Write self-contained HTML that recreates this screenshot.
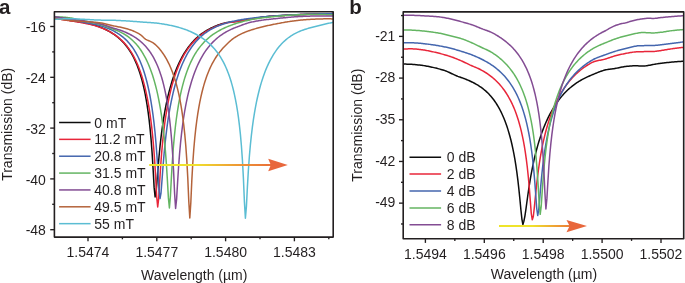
<!DOCTYPE html>
<html><head><meta charset="utf-8"><style>
html,body{margin:0;padding:0;background:#fff;width:685px;height:283px;overflow:hidden}
svg{display:block;will-change:transform}
.t{font-family:"Liberation Sans",sans-serif;font-size:14px;fill:#231f20}
.L{font-family:"Liberation Sans",sans-serif;font-size:20.5px;font-weight:bold;fill:#231f20}
</style></head><body>
<svg width="685" height="283" viewBox="0 0 685 283">
<defs>
<clipPath id="clipa"><rect x="54.4" y="11.8" width="278.8" height="225.29999999999998"/></clipPath>
<clipPath id="clipb"><rect x="403.2" y="11.9" width="280.50000000000006" height="226.79999999999998"/></clipPath>
<linearGradient id="ga" gradientUnits="userSpaceOnUse" x1="149.5" y1="0" x2="288" y2="0"><stop offset="0" stop-color="#eee52a"/><stop offset="0.33" stop-color="#f0e12c"/><stop offset="0.62" stop-color="#ee9c34"/><stop offset="0.85" stop-color="#ea7438"/><stop offset="1" stop-color="#e8673c"/></linearGradient>
<linearGradient id="gb" gradientUnits="userSpaceOnUse" x1="499" y1="0" x2="587" y2="0"><stop offset="0" stop-color="#eee52a"/><stop offset="0.38" stop-color="#f0e12c"/><stop offset="0.66" stop-color="#ee9c34"/><stop offset="0.85" stop-color="#ea7438"/><stop offset="1" stop-color="#e8673c"/></linearGradient>
</defs>
<rect width="685" height="283" fill="#fff"/>
<text x="-1.10" y="14.00" text-anchor="start" class="L">a</text>
<text x="349.20" y="13.80" text-anchor="start" class="L">b</text>
<g clip-path="url(#clipa)" fill="none" stroke-width="1.5" stroke-linejoin="round" stroke-linecap="round">
<polyline points="53.10,17.69 54.10,17.82 55.10,17.99 56.10,18.15 57.10,18.32 58.10,18.48 59.10,18.64 60.10,18.80 61.10,18.96 62.10,19.12 63.10,19.28 64.10,19.44 65.10,19.60 66.10,19.76 67.10,19.92 68.10,20.08 69.10,20.24 70.10,20.40 71.10,20.56 72.10,20.72 73.10,20.88 74.10,21.04 75.10,21.19 76.10,21.35 77.10,21.51 78.10,21.67 79.10,21.83 80.10,22.00 81.10,22.17 82.10,22.35 83.10,22.54 84.10,22.74 85.10,22.94 86.10,23.15 87.10,23.36 88.10,23.58 89.10,23.80 90.10,24.03 91.10,24.27 92.10,24.52 93.10,24.79 94.10,25.07 95.10,25.36 96.10,25.67 97.10,26.00 98.10,26.34 99.10,26.71 100.10,27.10 101.10,27.50 102.10,27.92 103.10,28.36 104.10,28.81 105.10,29.28 106.10,29.77 107.10,30.27 108.10,30.80 109.10,31.35 110.10,31.93 111.10,32.52 112.10,33.14 113.10,33.79 114.10,34.47 115.10,35.18 116.10,35.92 117.10,36.69 118.10,37.50 119.10,38.35 120.10,39.24 121.10,40.18 122.10,41.17 123.10,42.20 124.10,43.29 125.10,44.45 126.10,45.67 127.10,46.95 128.10,48.32 129.10,49.76 130.10,51.29 131.10,52.92 132.10,54.66 133.10,56.50 134.10,58.48 135.10,60.59 136.10,62.84 137.10,65.27 138.10,67.88 139.10,70.69 140.10,73.74 141.10,77.04 142.10,80.64 143.10,84.58 144.10,88.91 145.10,93.70 146.10,99.03 147.10,105.02 148.10,111.83 149.10,119.65 150.10,128.80 151.10,139.68 152.10,152.90 153.10,169.06 154.10,187.15 155.10,196.96 156.10,192.04 157.10,180.18 158.10,167.39 159.10,155.73 160.10,145.53 161.10,136.61 162.10,128.76 163.10,121.79 164.10,115.53 165.10,109.88 166.10,104.72 167.10,99.99 168.10,95.63 169.10,91.59 170.10,87.84 171.10,84.34 172.10,81.06 173.10,77.98 174.10,75.09 175.10,72.36 176.10,69.79 177.10,67.35 178.10,65.05 179.10,62.87 180.10,60.80 181.10,58.83 182.10,56.97 183.10,55.19 184.10,53.50 185.10,51.89 186.10,50.36 187.10,48.90 188.10,47.50 189.10,46.17 190.10,44.91 191.10,43.70 192.10,42.54 193.10,41.44 194.10,40.38 195.10,39.37 196.10,38.41 197.10,37.49 198.10,36.61 199.10,35.76 200.10,34.96 201.10,34.19 202.10,33.45 203.10,32.74 204.10,32.06 205.10,31.41 206.10,30.79 207.10,30.19 208.10,29.62 209.10,29.07 210.10,28.55 211.10,28.04 212.10,27.56 213.10,27.10 214.10,26.65 215.10,26.23 216.10,25.82 217.10,25.43 218.10,25.06 219.10,24.70 220.10,24.36 221.10,24.03 222.10,23.72 223.10,23.43 224.10,23.17 225.10,22.93 226.10,22.73 227.10,22.54 228.10,22.38 229.10,22.23 230.10,22.10 231.10,21.98 232.10,21.87 233.10,21.76 234.10,21.66 235.10,21.56 236.10,21.45 237.10,21.34 238.10,21.22 239.10,21.09 240.10,20.94 241.10,20.79 242.10,20.63 243.10,20.46 244.10,20.29 245.10,20.12 246.10,19.95 247.10,19.77 248.10,19.60 249.10,19.42 250.10,19.24 251.10,19.06 252.10,18.88 253.10,18.70 254.10,18.52 255.10,18.34 256.10,18.17 257.10,18.00 258.10,17.83 259.10,17.67 260.10,17.51 261.10,17.35 262.10,17.20 263.10,17.06 264.10,16.93 265.10,16.80 266.10,16.67 267.10,16.56 268.10,16.46 269.10,16.36 270.10,16.28 271.10,16.20 272.10,16.13 273.10,16.07 274.10,16.00 275.10,15.94 276.10,15.87 277.10,15.81 278.10,15.75 279.10,15.69 280.10,15.63 281.10,15.57 282.10,15.51 283.10,15.45 284.10,15.40 285.10,15.34 286.10,15.29 287.10,15.24 288.10,15.18 289.10,15.13 290.10,15.08 291.10,15.03 292.10,14.98 293.10,14.93 294.10,14.88 295.10,14.83 296.10,14.79 297.10,14.74 298.10,14.70 299.10,14.65 300.10,14.61 301.10,14.56 302.10,14.52 303.10,14.48 304.10,14.44 305.10,14.41 306.10,14.37 307.10,14.34 308.10,14.31 309.10,14.28 310.10,14.24 311.10,14.21 312.10,14.18 313.10,14.15 314.10,14.12 315.10,14.09 316.10,14.06 317.10,14.03 318.10,14.00 319.10,13.97 320.10,13.94 321.10,13.91 322.10,13.88 323.10,13.85 324.10,13.83 325.10,13.80 326.10,13.77 327.10,13.75 328.10,13.72 329.10,13.69 330.10,13.67 331.10,13.65 332.10,13.62 333.10,13.60 334.10,13.55 335.10,13.49" stroke="#0c0c0c"/>
<polyline points="52.70,18.03 53.70,18.16 54.70,18.32 55.70,18.49 56.70,18.66 57.70,18.82 58.70,18.99 59.70,19.15 60.70,19.32 61.70,19.48 62.70,19.64 63.70,19.80 64.70,19.96 65.70,20.12 66.70,20.27 67.70,20.43 68.70,20.59 69.70,20.74 70.70,20.90 71.70,21.06 72.70,21.21 73.70,21.37 74.70,21.52 75.70,21.68 76.70,21.84 77.70,22.00 78.70,22.16 79.70,22.33 80.70,22.50 81.70,22.68 82.70,22.86 83.70,23.05 84.70,23.24 85.70,23.45 86.70,23.66 87.70,23.87 88.70,24.09 89.70,24.32 90.70,24.56 91.70,24.80 92.70,25.06 93.70,25.33 94.70,25.61 95.70,25.90 96.70,26.20 97.70,26.52 98.70,26.85 99.70,27.20 100.70,27.57 101.70,27.95 102.70,28.35 103.70,28.76 104.70,29.19 105.70,29.64 106.70,30.11 107.70,30.60 108.70,31.11 109.70,31.65 110.70,32.20 111.70,32.79 112.70,33.40 113.70,34.03 114.70,34.70 115.70,35.40 116.70,36.13 117.70,36.90 118.70,37.70 119.70,38.55 120.70,39.44 121.70,40.37 122.70,41.35 123.70,42.38 124.70,43.47 125.70,44.61 126.70,45.82 127.70,47.10 128.70,48.44 129.70,49.87 130.70,51.38 131.70,52.97 132.70,54.66 133.70,56.46 134.70,58.36 135.70,60.39 136.70,62.55 137.70,64.85 138.70,67.31 139.70,69.94 140.70,72.76 141.70,75.79 142.70,79.05 143.70,82.58 144.70,86.41 145.70,90.58 146.70,95.15 147.70,100.17 148.70,105.75 149.70,111.98 150.70,119.04 151.70,127.12 152.70,136.53 153.70,147.71 154.70,161.28 155.70,177.91 156.70,196.71 157.70,206.92 158.70,198.35 159.70,181.33 160.70,165.52 161.70,152.29 162.70,141.25 163.70,131.87 164.70,123.77 165.70,116.66 166.70,110.35 167.70,104.69 168.70,99.56 169.70,94.89 170.70,90.61 171.70,86.66 172.70,83.01 173.70,79.62 174.70,76.46 175.70,73.51 176.70,70.74 177.70,68.15 178.70,65.71 179.70,63.42 180.70,61.26 181.70,59.21 182.70,57.28 183.70,55.46 184.70,53.73 185.70,52.09 186.70,50.54 187.70,49.06 188.70,47.66 189.70,46.33 190.70,45.06 191.70,43.86 192.70,42.71 193.70,41.62 194.70,40.57 195.70,39.58 196.70,38.62 197.70,37.72 198.70,36.85 199.70,36.02 200.70,35.22 201.70,34.46 202.70,33.73 203.70,33.03 204.70,32.36 205.70,31.72 206.70,31.10 207.70,30.51 208.70,29.94 209.70,29.39 210.70,28.86 211.70,28.35 212.70,27.87 213.70,27.40 214.70,26.95 215.70,26.51 216.70,26.10 217.70,25.70 218.70,25.31 219.70,24.94 220.70,24.58 221.70,24.24 222.70,23.91 223.70,23.60 224.70,23.33 225.70,23.09 226.70,22.88 227.70,22.69 228.70,22.53 229.70,22.39 230.70,22.26 231.70,22.14 232.70,22.03 233.70,21.93 234.70,21.83 235.70,21.73 236.70,21.62 237.70,21.49 238.70,21.36 239.70,21.20 240.70,21.03 241.70,20.86 242.70,20.68 243.70,20.50 244.70,20.33 245.70,20.15 246.70,19.97 247.70,19.80 248.70,19.62 249.70,19.44 250.70,19.27 251.70,19.09 252.70,18.92 253.70,18.75 254.70,18.58 255.70,18.41 256.70,18.25 257.70,18.09 258.70,17.93 259.70,17.78 260.70,17.63 261.70,17.48 262.70,17.34 263.70,17.21 264.70,17.08 265.70,16.95 266.70,16.84 267.70,16.72 268.70,16.62 269.70,16.52 270.70,16.43 271.70,16.35 272.70,16.27 273.70,16.19 274.70,16.12 275.70,16.04 276.70,15.97 277.70,15.90 278.70,15.83 279.70,15.76 280.70,15.69 281.70,15.63 282.70,15.56 283.70,15.50 284.70,15.44 285.70,15.37 286.70,15.32 287.70,15.26 288.70,15.20 289.70,15.14 290.70,15.09 291.70,15.04 292.70,14.99 293.70,14.93 294.70,14.88 295.70,14.84 296.70,14.79 297.70,14.74 298.70,14.70 299.70,14.65 300.70,14.61 301.70,14.57 302.70,14.53 303.70,14.49 304.70,14.45 305.70,14.41 306.70,14.38 307.70,14.34 308.70,14.31 309.70,14.27 310.70,14.24 311.70,14.21 312.70,14.18 313.70,14.15 314.70,14.12 315.70,14.10 316.70,14.07 317.70,14.05 318.70,14.02 319.70,14.00 320.70,13.98 321.70,13.96 322.70,13.94 323.70,13.92 324.70,13.90 325.70,13.89 326.70,13.87 327.70,13.86 328.70,13.84 329.70,13.83 330.70,13.82 331.70,13.81 332.70,13.80 333.70,13.79 334.70,13.77" stroke="#e8263a"/>
<polyline points="53.00,16.31 54.00,16.50 55.00,16.71 56.00,16.92 57.00,17.13 58.00,17.33 59.00,17.54 60.00,17.74 61.00,17.94 62.00,18.13 63.00,18.33 64.00,18.52 65.00,18.72 66.00,18.91 67.00,19.10 68.00,19.29 69.00,19.48 70.00,19.67 71.00,19.86 72.00,20.05 73.00,20.24 74.00,20.43 75.00,20.62 76.00,20.81 77.00,21.00 78.00,21.19 79.00,21.39 80.00,21.58 81.00,21.78 82.00,21.97 83.00,22.17 84.00,22.38 85.00,22.58 86.00,22.78 87.00,22.96 88.00,23.14 89.00,23.30 90.00,23.46 91.00,23.62 92.00,23.79 93.00,23.95 94.00,24.13 95.00,24.32 96.00,24.52 97.00,24.74 98.00,24.98 99.00,25.25 100.00,25.54 101.00,25.85 102.00,26.17 103.00,26.50 104.00,26.84 105.00,27.20 106.00,27.58 107.00,27.96 108.00,28.37 109.00,28.79 110.00,29.23 111.00,29.69 112.00,30.16 113.00,30.66 114.00,31.19 115.00,31.73 116.00,32.30 117.00,32.90 118.00,33.53 119.00,34.19 120.00,34.88 121.00,35.60 122.00,36.36 123.00,37.16 124.00,38.01 125.00,38.90 126.00,39.84 127.00,40.84 128.00,41.89 129.00,43.00 130.00,44.18 131.00,45.44 132.00,46.77 133.00,48.18 134.00,49.69 135.00,51.29 136.00,53.00 137.00,54.82 138.00,56.77 139.00,58.85 140.00,61.08 141.00,63.48 142.00,66.05 143.00,68.81 144.00,71.79 145.00,75.02 146.00,78.51 147.00,82.31 148.00,86.46 149.00,91.01 150.00,96.02 151.00,101.59 152.00,107.81 153.00,114.85 154.00,122.90 155.00,132.25 156.00,143.29 157.00,156.55 158.00,172.47 159.00,189.70 160.00,198.56 161.00,193.06 162.00,180.26 163.00,166.80 164.00,154.71 165.00,144.21 166.00,135.09 167.00,127.07 168.00,119.97 169.00,113.60 170.00,107.84 171.00,102.60 172.00,97.80 173.00,93.37 174.00,89.28 175.00,85.47 176.00,81.92 177.00,78.61 178.00,75.50 179.00,72.59 180.00,69.84 181.00,67.26 182.00,64.82 183.00,62.52 184.00,60.34 185.00,58.28 186.00,56.33 187.00,54.48 188.00,52.73 189.00,51.07 190.00,49.49 191.00,47.99 192.00,46.56 193.00,45.21 194.00,43.92 195.00,42.70 196.00,41.53 197.00,40.42 198.00,39.37 199.00,38.36 200.00,37.41 201.00,36.49 202.00,35.62 203.00,34.79 204.00,34.00 205.00,33.24 206.00,32.52 207.00,31.83 208.00,31.18 209.00,30.55 210.00,29.95 211.00,29.37 212.00,28.82 213.00,28.30 214.00,27.79 215.00,27.31 216.00,26.85 217.00,26.41 218.00,25.98 219.00,25.58 220.00,25.19 221.00,24.82 222.00,24.46 223.00,24.12 224.00,23.79 225.00,23.47 226.00,23.17 227.00,22.88 228.00,22.59 229.00,22.32 230.00,22.06 231.00,21.81 232.00,21.57 233.00,21.34 234.00,21.11 235.00,20.90 236.00,20.69 237.00,20.48 238.00,20.29 239.00,20.10 240.00,19.92 241.00,19.74 242.00,19.57 243.00,19.41 244.00,19.25 245.00,19.09 246.00,18.94 247.00,18.80 248.00,18.66 249.00,18.52 250.00,18.38 251.00,18.25 252.00,18.13 253.00,18.00 254.00,17.88 255.00,17.77 256.00,17.65 257.00,17.54 258.00,17.43 259.00,17.33 260.00,17.22 261.00,17.12 262.00,17.02 263.00,16.92 264.00,16.83 265.00,16.74 266.00,16.64 267.00,16.55 268.00,16.46 269.00,16.38 270.00,16.29 271.00,16.21 272.00,16.13 273.00,16.04 274.00,15.97 275.00,15.89 276.00,15.81 277.00,15.74 278.00,15.66 279.00,15.59 280.00,15.53 281.00,15.47 282.00,15.42 283.00,15.36 284.00,15.31 285.00,15.25 286.00,15.20 287.00,15.15 288.00,15.10 289.00,15.05 290.00,15.00 291.00,14.95 292.00,14.90 293.00,14.85 294.00,14.80 295.00,14.76 296.00,14.71 297.00,14.67 298.00,14.62 299.00,14.58 300.00,14.54 301.00,14.49 302.00,14.45 303.00,14.41 304.00,14.37 305.00,14.33 306.00,14.29 307.00,14.26 308.00,14.22 309.00,14.18 310.00,14.15 311.00,14.11 312.00,14.08 313.00,14.05 314.00,14.02 315.00,13.99 316.00,13.96 317.00,13.93 318.00,13.90 319.00,13.87 320.00,13.85 321.00,13.82 322.00,13.80 323.00,13.78 324.00,13.75 325.00,13.73 326.00,13.71 327.00,13.69 328.00,13.67 329.00,13.66 330.00,13.64 331.00,13.63 332.00,13.61 333.00,13.60 334.00,13.59 335.00,13.59" stroke="#4466ae"/>
<polyline points="53.40,17.04 54.40,17.13 55.40,17.10 56.40,17.08 57.40,17.06 58.40,17.05 59.40,17.05 60.40,17.06 61.40,17.08 62.40,17.12 63.40,17.16 64.40,17.22 65.40,17.30 66.40,17.39 67.40,17.50 68.40,17.62 69.40,17.76 70.40,17.92 71.40,18.11 72.40,18.31 73.40,18.52 74.40,18.75 75.40,18.98 76.40,19.23 77.40,19.47 78.40,19.72 79.40,19.97 80.40,20.21 81.40,20.45 82.40,20.68 83.40,20.90 84.40,21.10 85.40,21.29 86.40,21.48 87.40,21.67 88.40,21.86 89.40,22.05 90.40,22.24 91.40,22.44 92.40,22.64 93.40,22.84 94.40,23.05 95.40,23.26 96.40,23.48 97.40,23.71 98.40,23.94 99.40,24.18 100.40,24.44 101.40,24.72 102.40,25.03 103.40,25.36 104.40,25.72 105.40,26.09 106.40,26.48 107.40,26.87 108.40,27.27 109.40,27.66 110.40,28.05 111.40,28.44 112.40,28.82 113.40,29.19 114.40,29.56 115.40,29.93 116.40,30.33 117.40,30.73 118.40,31.16 119.40,31.61 120.40,32.08 121.40,32.58 122.40,33.10 123.40,33.65 124.40,34.24 125.40,34.85 126.40,35.50 127.40,36.18 128.40,36.90 129.40,37.67 130.40,38.48 131.40,39.33 132.40,40.23 133.40,41.18 134.40,42.18 135.40,43.25 136.40,44.37 137.40,45.55 138.40,46.81 139.40,48.13 140.40,49.54 141.40,51.02 142.40,52.60 143.40,54.26 144.40,56.03 145.40,57.90 146.40,59.89 147.40,62.01 148.40,64.26 149.40,66.65 150.40,69.21 151.40,71.94 152.40,74.86 153.40,77.99 154.40,81.36 155.40,84.99 156.40,88.92 157.40,93.20 158.40,97.86 159.40,102.99 160.40,108.66 161.40,114.98 162.40,122.10 163.40,130.24 164.40,139.67 165.40,150.80 166.40,164.18 167.40,180.30 168.40,197.90 169.40,207.98 170.40,196.30 171.40,177.19 172.40,160.49 173.40,146.94 174.40,135.82 175.40,126.49 176.40,118.49 177.40,111.52 178.40,105.37 179.40,99.87 180.40,94.93 181.40,90.44 182.40,86.35 183.40,82.59 184.40,79.13 185.40,75.93 186.40,72.96 187.40,70.20 188.40,67.62 189.40,65.20 190.40,62.94 191.40,60.82 192.40,58.82 193.40,56.94 194.40,55.17 195.40,53.49 196.40,51.91 197.40,50.41 198.40,48.99 199.40,47.64 200.40,46.36 201.40,45.14 202.40,43.99 203.40,42.88 204.40,41.83 205.40,40.83 206.40,39.87 207.40,38.96 208.40,38.08 209.40,37.25 210.40,36.45 211.40,35.68 212.40,34.94 213.40,34.23 214.40,33.55 215.40,32.90 216.40,32.27 217.40,31.66 218.40,31.08 219.40,30.52 220.40,29.98 221.40,29.45 222.40,28.95 223.40,28.46 224.40,27.99 225.40,27.53 226.40,27.09 227.40,26.66 228.40,26.25 229.40,25.85 230.40,25.46 231.40,25.09 232.40,24.72 233.40,24.37 234.40,24.03 235.40,23.70 236.40,23.38 237.40,23.07 238.40,22.77 239.40,22.47 240.40,22.19 241.40,21.91 242.40,21.65 243.40,21.39 244.40,21.13 245.40,20.89 246.40,20.65 247.40,20.42 248.40,20.20 249.40,19.98 250.40,19.77 251.40,19.57 252.40,19.38 253.40,19.19 254.40,19.02 255.40,18.85 256.40,18.69 257.40,18.54 258.40,18.39 259.40,18.25 260.40,18.11 261.40,17.98 262.40,17.86 263.40,17.73 264.40,17.62 265.40,17.50 266.40,17.39 267.40,17.28 268.40,17.18 269.40,17.07 270.40,16.97 271.40,16.87 272.40,16.76 273.40,16.66 274.40,16.56 275.40,16.46 276.40,16.36 277.40,16.26 278.40,16.16 279.40,16.07 280.40,15.98 281.40,15.89 282.40,15.81 283.40,15.72 284.40,15.64 285.40,15.57 286.40,15.49 287.40,15.42 288.40,15.36 289.40,15.29 290.40,15.23 291.40,15.17 292.40,15.11 293.40,15.05 294.40,15.00 295.40,14.95 296.40,14.90 297.40,14.86 298.40,14.82 299.40,14.78 300.40,14.74 301.40,14.71 302.40,14.67 303.40,14.64 304.40,14.62 305.40,14.59 306.40,14.57 307.40,14.55 308.40,14.53 309.40,14.52 310.40,14.51 311.40,14.50 312.40,14.49 313.40,14.49 314.40,14.48 315.40,14.48 316.40,14.49 317.40,14.49 318.40,14.50 319.40,14.51 320.40,14.52 321.40,14.54 322.40,14.56 323.40,14.58 324.40,14.60 325.40,14.62 326.40,14.65 327.40,14.68 328.40,14.72 329.40,14.75 330.40,14.79 331.40,14.83 332.40,14.87 333.40,14.92 334.40,14.97" stroke="#64b562"/>
<polyline points="52.60,16.55 53.60,16.72 54.60,16.86 55.60,16.98 56.60,17.11 57.60,17.24 58.60,17.36 59.60,17.49 60.60,17.62 61.60,17.75 62.60,17.87 63.60,18.00 64.60,18.13 65.60,18.26 66.60,18.39 67.60,18.53 68.60,18.66 69.60,18.79 70.60,18.93 71.60,19.06 72.60,19.20 73.60,19.34 74.60,19.48 75.60,19.62 76.60,19.76 77.60,19.91 78.60,20.05 79.60,20.20 80.60,20.35 81.60,20.50 82.60,20.65 83.60,20.81 84.60,20.97 85.60,21.13 86.60,21.29 87.60,21.46 88.60,21.62 89.60,21.79 90.60,21.96 91.60,22.13 92.60,22.31 93.60,22.49 94.60,22.68 95.60,22.87 96.60,23.07 97.60,23.27 98.60,23.48 99.60,23.69 100.60,23.92 101.60,24.17 102.60,24.46 103.60,24.77 104.60,25.10 105.60,25.44 106.60,25.80 107.60,26.16 108.60,26.52 109.60,26.88 110.60,27.23 111.60,27.58 112.60,27.91 113.60,28.22 114.60,28.52 115.60,28.80 116.60,29.09 117.60,29.37 118.60,29.67 119.60,29.98 120.60,30.32 121.60,30.69 122.60,31.07 123.60,31.47 124.60,31.88 125.60,32.31 126.60,32.76 127.60,33.22 128.60,33.70 129.60,34.20 130.60,34.72 131.60,35.27 132.60,35.84 133.60,36.43 134.60,37.05 135.60,37.70 136.60,38.38 137.60,39.10 138.60,39.85 139.60,40.63 140.60,41.46 141.60,42.33 142.60,43.25 143.60,44.22 144.60,45.24 145.60,46.32 146.60,47.46 147.60,48.67 148.60,49.95 149.60,51.31 150.60,52.76 151.60,54.30 152.60,55.94 153.60,57.69 154.60,59.56 155.60,61.56 156.60,63.71 157.60,66.03 158.60,68.52 159.60,71.22 160.60,74.15 161.60,77.33 162.60,80.81 163.60,84.63 164.60,88.84 165.60,93.52 166.60,98.75 167.60,104.66 168.60,111.41 169.60,119.24 170.60,128.47 171.60,139.62 172.60,153.50 173.60,171.32 174.60,193.52 175.60,208.54 176.60,199.26 177.60,182.28 178.60,166.53 179.60,153.37 180.60,142.40 181.60,133.09 182.60,125.05 183.60,118.00 184.60,111.75 185.60,106.14 186.60,101.07 187.60,96.44 188.60,92.20 189.60,88.30 190.60,84.68 191.60,81.32 192.60,78.19 193.60,75.27 194.60,72.53 195.60,69.96 196.60,67.54 197.60,65.26 198.60,63.11 199.60,61.07 200.60,59.15 201.60,57.33 202.60,55.60 203.60,53.97 204.60,52.41 205.60,50.93 206.60,49.52 207.60,48.19 208.60,46.91 209.60,45.70 210.60,44.54 211.60,43.44 212.60,42.38 213.60,41.38 214.60,40.42 215.60,39.50 216.60,38.62 217.60,37.78 218.60,36.98 219.60,36.22 220.60,35.48 221.60,34.78 222.60,34.11 223.60,33.46 224.60,32.85 225.60,32.26 226.60,31.69 227.60,31.15 228.60,30.62 229.60,30.12 230.60,29.64 231.60,29.18 232.60,28.73 233.60,28.31 234.60,27.89 235.60,27.50 236.60,27.11 237.60,26.73 238.60,26.35 239.60,25.96 240.60,25.58 241.60,25.20 242.60,24.82 243.60,24.45 244.60,24.09 245.60,23.75 246.60,23.42 247.60,23.10 248.60,22.81 249.60,22.55 250.60,22.31 251.60,22.08 252.60,21.86 253.60,21.65 254.60,21.45 255.60,21.26 256.60,21.08 257.60,20.91 258.60,20.74 259.60,20.58 260.60,20.42 261.60,20.27 262.60,20.12 263.60,19.98 264.60,19.85 265.60,19.72 266.60,19.60 267.60,19.49 268.60,19.38 269.60,19.27 270.60,19.16 271.60,19.06 272.60,18.95 273.60,18.85 274.60,18.75 275.60,18.64 276.60,18.53 277.60,18.43 278.60,18.32 279.60,18.22 280.60,18.12 281.60,18.02 282.60,17.92 283.60,17.82 284.60,17.72 285.60,17.63 286.60,17.53 287.60,17.44 288.60,17.35 289.60,17.27 290.60,17.18 291.60,17.10 292.60,17.02 293.60,16.95 294.60,16.87 295.60,16.80 296.60,16.73 297.60,16.67 298.60,16.61 299.60,16.55 300.60,16.50 301.60,16.45 302.60,16.40 303.60,16.36 304.60,16.32 305.60,16.28 306.60,16.24 307.60,16.21 308.60,16.18 309.60,16.15 310.60,16.12 311.60,16.10 312.60,16.07 313.60,16.06 314.60,16.04 315.60,16.02 316.60,16.01 317.60,16.00 318.60,15.99 319.60,15.98 320.60,15.98 321.60,15.97 322.60,15.97 323.60,15.98 324.60,15.98 325.60,15.99 326.60,16.00 327.60,16.01 328.60,16.02 329.60,16.03 330.60,16.05 331.60,16.07 332.60,16.09 333.60,16.10 334.60,16.11" stroke="#834c93"/>
<polyline points="52.80,18.07 53.80,18.18 54.80,18.34 55.80,18.52 56.80,18.69 57.80,18.86 58.80,19.02 59.80,19.17 60.80,19.32 61.80,19.47 62.80,19.61 63.80,19.74 64.80,19.88 65.80,20.00 66.80,20.13 67.80,20.25 68.80,20.36 69.80,20.48 70.80,20.59 71.80,20.68 72.80,20.77 73.80,20.86 74.80,20.93 75.80,21.01 76.80,21.07 77.80,21.14 78.80,21.20 79.80,21.26 80.80,21.32 81.80,21.38 82.80,21.45 83.80,21.51 84.80,21.59 85.80,21.66 86.80,21.72 87.80,21.79 88.80,21.84 89.80,21.90 90.80,21.96 91.80,22.02 92.80,22.08 93.80,22.15 94.80,22.23 95.80,22.31 96.80,22.41 97.80,22.51 98.80,22.64 99.80,22.77 100.80,22.93 101.80,23.11 102.80,23.30 103.80,23.52 104.80,23.75 105.80,23.98 106.80,24.23 107.80,24.48 108.80,24.73 109.80,24.99 110.80,25.23 111.80,25.47 112.80,25.70 113.80,25.92 114.80,26.12 115.80,26.32 116.80,26.51 117.80,26.70 118.80,26.90 119.80,27.10 120.80,27.31 121.80,27.54 122.80,27.76 123.80,28.00 124.80,28.24 125.80,28.49 126.80,28.76 127.80,29.05 128.80,29.36 129.80,29.69 130.80,30.04 131.80,30.42 132.80,30.82 133.80,31.24 134.80,31.69 135.80,32.16 136.80,32.65 137.80,33.17 138.80,33.71 139.80,34.28 140.80,34.95 141.80,35.82 142.80,36.79 143.80,37.77 144.80,38.64 145.80,39.30 146.80,39.82 147.80,40.28 148.80,40.71 149.80,41.18 150.80,41.66 151.80,42.12 152.80,42.64 153.80,43.31 154.80,44.14 155.80,45.04 156.80,46.00 157.80,47.02 158.80,48.11 159.80,49.28 160.80,50.52 161.80,51.83 162.80,53.23 163.80,54.70 164.80,56.26 165.80,57.92 166.80,59.68 167.80,61.55 168.80,63.55 169.80,65.68 170.80,67.97 171.80,70.41 172.80,73.04 173.80,75.88 174.80,78.94 175.80,82.26 176.80,85.87 177.80,89.82 178.80,94.17 179.80,98.99 180.80,104.35 181.80,110.40 182.80,117.29 183.80,125.25 184.80,134.64 185.80,145.98 186.80,160.11 187.80,178.37 188.80,201.57 189.80,217.94 190.80,202.95 191.80,180.81 192.80,162.95 193.80,148.99 194.80,137.75 195.80,128.41 196.80,120.47 197.80,113.59 198.80,107.55 199.80,102.17 200.80,97.35 201.80,92.98 202.80,89.01 203.80,85.38 204.80,82.03 205.80,78.95 206.80,76.09 207.80,73.44 208.80,70.97 209.80,68.66 210.80,66.50 211.80,64.47 212.80,62.57 213.80,60.78 214.80,59.09 215.80,57.50 216.80,55.99 217.80,54.56 218.80,53.21 219.80,51.91 220.80,50.66 221.80,49.47 222.80,48.32 223.80,47.22 224.80,46.17 225.80,45.16 226.80,44.18 227.80,43.22 228.80,42.29 229.80,41.38 230.80,40.51 231.80,39.68 232.80,38.89 233.80,38.17 234.80,37.50 235.80,36.87 236.80,36.27 237.80,35.69 238.80,35.14 239.80,34.62 240.80,34.12 241.80,33.64 242.80,33.19 243.80,32.75 244.80,32.32 245.80,31.92 246.80,31.53 247.80,31.15 248.80,30.78 249.80,30.43 250.80,30.09 251.80,29.77 252.80,29.46 253.80,29.17 254.80,28.88 255.80,28.60 256.80,28.34 257.80,28.07 258.80,27.82 259.80,27.56 260.80,27.31 261.80,27.05 262.80,26.79 263.80,26.55 264.80,26.30 265.80,26.06 266.80,25.83 267.80,25.60 268.80,25.37 269.80,25.16 270.80,24.94 271.80,24.73 272.80,24.53 273.80,24.33 274.80,24.13 275.80,23.94 276.80,23.75 277.80,23.56 278.80,23.37 279.80,23.18 280.80,23.00 281.80,22.81 282.80,22.63 283.80,22.45 284.80,22.28 285.80,22.11 286.80,21.94 287.80,21.78 288.80,21.63 289.80,21.48 290.80,21.34 291.80,21.19 292.80,21.05 293.80,20.91 294.80,20.78 295.80,20.65 296.80,20.52 297.80,20.40 298.80,20.29 299.80,20.18 300.80,20.07 301.80,19.97 302.80,19.88 303.80,19.80 304.80,19.72 305.80,19.64 306.80,19.57 307.80,19.50 308.80,19.44 309.80,19.38 310.80,19.32 311.80,19.27 312.80,19.22 313.80,19.17 314.80,19.13 315.80,19.09 316.80,19.05 317.80,19.01 318.80,18.97 319.80,18.94 320.80,18.92 321.80,18.89 322.80,18.88 323.80,18.86 324.80,18.85 325.80,18.85 326.80,18.84 327.80,18.85 328.80,18.85 329.80,18.86 330.80,18.87 331.80,18.88 332.80,18.90 333.80,18.87 334.80,18.84" stroke="#b4633a"/>
<polyline points="53.40,19.42 54.40,19.36 55.40,19.28 56.40,19.20 57.40,19.14 58.40,19.07 59.40,19.02 60.40,18.96 61.40,18.92 62.40,18.88 63.40,18.84 64.40,18.81 65.40,18.78 66.40,18.76 67.40,18.74 68.40,18.72 69.40,18.71 70.40,18.70 71.40,18.70 72.40,18.71 73.40,18.74 74.40,18.78 75.40,18.82 76.40,18.88 77.40,18.94 78.40,19.00 79.40,19.07 80.40,19.13 81.40,19.20 82.40,19.26 83.40,19.32 84.40,19.37 85.40,19.42 86.40,19.47 87.40,19.52 88.40,19.57 89.40,19.62 90.40,19.67 91.40,19.73 92.40,19.78 93.40,19.83 94.40,19.88 95.40,19.93 96.40,19.98 97.40,20.02 98.40,20.05 99.40,20.08 100.40,20.11 101.40,20.13 102.40,20.14 103.40,20.14 104.40,20.15 105.40,20.15 106.40,20.15 107.40,20.16 108.40,20.17 109.40,20.19 110.40,20.21 111.40,20.24 112.40,20.27 113.40,20.30 114.40,20.34 115.40,20.37 116.40,20.41 117.40,20.46 118.40,20.50 119.40,20.55 120.40,20.60 121.40,20.65 122.40,20.70 123.40,20.75 124.40,20.81 125.40,20.87 126.40,20.93 127.40,20.99 128.40,21.05 129.40,21.12 130.40,21.18 131.40,21.25 132.40,21.32 133.40,21.39 134.40,21.47 135.40,21.54 136.40,21.61 137.40,21.69 138.40,21.77 139.40,21.85 140.40,21.93 141.40,22.00 142.40,22.07 143.40,22.14 144.40,22.20 145.40,22.26 146.40,22.32 147.40,22.38 148.40,22.44 149.40,22.50 150.40,22.56 151.40,22.63 152.40,22.71 153.40,22.79 154.40,22.88 155.40,22.98 156.40,23.09 157.40,23.21 158.40,23.34 159.40,23.48 160.40,23.62 161.40,23.77 162.40,23.92 163.40,24.08 164.40,24.25 165.40,24.42 166.40,24.60 167.40,24.79 168.40,24.98 169.40,25.18 170.40,25.39 171.40,25.60 172.40,25.82 173.40,26.05 174.40,26.29 175.40,26.54 176.40,26.79 177.40,27.05 178.40,27.32 179.40,27.60 180.40,27.89 181.40,28.20 182.40,28.51 183.40,28.84 184.40,29.18 185.40,29.54 186.40,29.91 187.40,30.30 188.40,30.71 189.40,31.12 190.40,31.56 191.40,32.01 192.40,32.48 193.40,32.96 194.40,33.46 195.40,33.98 196.40,34.52 197.40,35.08 198.40,35.66 199.40,36.25 200.40,36.88 201.40,37.52 202.40,38.19 203.40,38.89 204.40,39.61 205.40,40.36 206.40,41.15 207.40,41.96 208.40,42.81 209.40,43.70 210.40,44.64 211.40,45.61 212.40,46.63 213.40,47.70 214.40,48.82 215.40,50.01 216.40,51.25 217.40,52.56 218.40,53.94 219.40,55.41 220.40,56.95 221.40,58.59 222.40,60.33 223.40,62.18 224.40,64.15 225.40,66.26 226.40,68.50 227.40,70.91 228.40,73.50 229.40,76.29 230.40,79.31 231.40,82.58 232.40,86.14 233.40,90.04 234.40,94.33 235.40,99.09 236.40,104.39 237.40,110.37 238.40,117.20 239.40,125.10 240.40,134.42 241.40,145.71 242.40,159.82 243.40,178.13 244.40,201.63 245.40,218.22 246.40,206.62 247.40,186.88 248.40,169.79 249.40,155.96 250.40,144.61 251.40,135.06 252.40,126.85 253.40,119.67 254.40,113.31 255.40,107.61 256.40,102.46 257.40,97.76 258.40,93.46 259.40,89.49 260.40,85.81 261.40,82.40 262.40,79.22 263.40,76.25 264.40,73.46 265.40,70.85 266.40,68.39 267.40,66.07 268.40,63.89 269.40,61.82 270.40,59.87 271.40,58.03 272.40,56.28 273.40,54.62 274.40,53.05 275.40,51.56 276.40,50.14 277.40,48.80 278.40,47.52 279.40,46.31 280.40,45.15 281.40,44.06 282.40,43.02 283.40,42.02 284.40,41.08 285.40,40.19 286.40,39.34 287.40,38.53 288.40,37.76 289.40,37.03 290.40,36.33 291.40,35.67 292.40,35.05 293.40,34.45 294.40,33.89 295.40,33.35 296.40,32.85 297.40,32.36 298.40,31.90 299.40,31.47 300.40,31.05 301.40,30.66 302.40,30.28 303.40,29.92 304.40,29.58 305.40,29.25 306.40,28.93 307.40,28.63 308.40,28.34 309.40,28.06 310.40,27.78 311.40,27.50 312.40,27.23 313.40,26.97 314.40,26.70 315.40,26.44 316.40,26.18 317.40,25.92 318.40,25.66 319.40,25.41 320.40,25.16 321.40,24.92 322.40,24.68 323.40,24.44 324.40,24.20 325.40,23.97 326.40,23.75 327.40,23.53 328.40,23.32 329.40,23.11 330.40,22.90 331.40,22.71 332.40,22.52 333.40,22.36 334.40,22.26" stroke="#5bbdd3"/>
</g>
<g clip-path="url(#clipb)" fill="none" stroke-width="1.5" stroke-linejoin="round" stroke-linecap="round">
<polyline points="401.90,63.94 402.90,64.08 403.90,64.10 404.90,64.11 405.90,64.12 406.90,64.14 407.90,64.17 408.90,64.21 409.90,64.25 410.90,64.30 411.90,64.36 412.90,64.43 413.90,64.51 414.90,64.60 415.90,64.69 416.90,64.79 417.90,64.89 418.90,64.99 419.90,65.10 420.90,65.22 421.90,65.35 422.90,65.48 423.90,65.63 424.90,65.80 425.90,65.97 426.90,66.15 427.90,66.34 428.90,66.54 429.90,66.74 430.90,66.95 431.90,67.17 432.90,67.39 433.90,67.62 434.90,67.86 435.90,68.10 436.90,68.35 437.90,68.61 438.90,68.87 439.90,69.14 440.90,69.41 441.90,69.69 442.90,69.98 443.90,70.29 444.90,70.63 445.90,71.01 446.90,71.42 447.90,71.85 448.90,72.30 449.90,72.76 450.90,73.23 451.90,73.71 452.90,74.18 453.90,74.65 454.90,75.10 455.90,75.55 456.90,75.97 457.90,76.37 458.90,76.74 459.90,77.08 460.90,77.42 461.90,77.78 462.90,78.14 463.90,78.52 464.90,78.90 465.90,79.30 466.90,79.71 467.90,80.13 468.90,80.56 469.90,81.01 470.90,81.47 471.90,81.95 472.90,82.45 473.90,82.96 474.90,83.50 475.90,84.05 476.90,84.63 477.90,85.23 478.90,85.86 479.90,86.52 480.90,87.20 481.90,87.92 482.90,88.68 483.90,89.47 484.90,90.30 485.90,91.17 486.90,92.09 487.90,93.06 488.90,94.08 489.90,95.15 490.90,96.29 491.90,97.48 492.90,98.73 493.90,100.06 494.90,101.46 495.90,102.94 496.90,104.49 497.90,106.14 498.90,107.89 499.90,109.73 500.90,111.69 501.90,113.76 502.90,115.96 503.90,118.31 504.90,120.80 505.90,123.47 506.90,126.32 507.90,129.38 508.90,132.67 509.90,136.22 510.90,140.06 511.90,144.24 512.90,148.82 513.90,153.84 514.90,159.40 515.90,165.60 516.90,172.56 517.90,180.41 518.90,189.30 519.90,199.24 520.90,209.76 521.90,219.01 522.90,224.63 523.90,221.14 524.90,216.11 525.90,209.34 526.90,202.01 527.90,194.77 528.90,187.94 529.90,181.58 530.90,175.71 531.90,170.29 532.90,165.27 533.90,160.62 534.90,156.29 535.90,152.25 536.90,148.47 537.90,144.91 538.90,141.57 539.90,138.40 540.90,135.41 541.90,132.57 542.90,129.88 543.90,127.32 544.90,124.87 545.90,122.54 546.90,120.32 547.90,118.19 548.90,116.15 549.90,114.20 550.90,112.33 551.90,110.54 552.90,108.83 553.90,107.18 554.90,105.59 555.90,104.07 556.90,102.61 557.90,101.21 558.90,99.86 559.90,98.56 560.90,97.32 561.90,96.12 562.90,94.97 563.90,93.86 564.90,92.79 565.90,91.77 566.90,90.78 567.90,89.83 568.90,88.92 569.90,88.04 570.90,87.20 571.90,86.39 572.90,85.60 573.90,84.85 574.90,84.12 575.90,83.42 576.90,82.74 577.90,82.09 578.90,81.47 579.90,80.86 580.90,80.27 581.90,79.71 582.90,79.16 583.90,78.63 584.90,78.12 585.90,77.62 586.90,77.14 587.90,76.67 588.90,76.22 589.90,75.77 590.90,75.34 591.90,74.92 592.90,74.50 593.90,74.08 594.90,73.66 595.90,73.24 596.90,72.83 597.90,72.42 598.90,72.02 599.90,71.64 600.90,71.28 601.90,70.93 602.90,70.61 603.90,70.32 604.90,70.05 605.90,69.82 606.90,69.63 607.90,69.46 608.90,69.32 609.90,69.19 610.90,69.06 611.90,68.94 612.90,68.81 613.90,68.67 614.90,68.50 615.90,68.32 616.90,68.12 617.90,67.91 618.90,67.70 619.90,67.49 620.90,67.29 621.90,67.09 622.90,66.91 623.90,66.74 624.90,66.59 625.90,66.46 626.90,66.34 627.90,66.24 628.90,66.15 629.90,66.06 630.90,65.98 631.90,65.91 632.90,65.84 633.90,65.78 634.90,65.75 635.90,65.75 636.90,65.78 637.90,65.82 638.90,65.88 639.90,65.93 640.90,65.97 641.90,66.00 642.90,66.00 643.90,65.98 644.90,65.91 645.90,65.80 646.90,65.66 647.90,65.50 648.90,65.34 649.90,65.16 650.90,64.97 651.90,64.78 652.90,64.58 653.90,64.38 654.90,64.20 655.90,64.02 656.90,63.87 657.90,63.73 658.90,63.60 659.90,63.47 660.90,63.33 661.90,63.20 662.90,63.07 663.90,62.94 664.90,62.82 665.90,62.70 666.90,62.59 667.90,62.48 668.90,62.38 669.90,62.29 670.90,62.21 671.90,62.12 672.90,62.03 673.90,61.95 674.90,61.86 675.90,61.78 676.90,61.70 677.90,61.62 678.90,61.54 679.90,61.46 680.90,61.39 681.90,61.33 682.90,61.26 683.90,61.21 684.90,61.11" stroke="#0c0c0c"/>
<polyline points="401.30,49.02 402.30,49.12 403.30,49.17 404.30,49.09 405.30,49.01 406.30,48.95 407.30,48.90 408.30,48.86 409.30,48.83 410.30,48.82 411.30,48.82 412.30,48.85 413.30,48.89 414.30,48.95 415.30,49.03 416.30,49.12 417.30,49.22 418.30,49.32 419.30,49.43 420.30,49.54 421.30,49.67 422.30,49.80 423.30,49.94 424.30,50.10 425.30,50.26 426.30,50.44 427.30,50.62 428.30,50.81 429.30,51.01 430.30,51.22 431.30,51.43 432.30,51.65 433.30,51.88 434.30,52.11 435.30,52.35 436.30,52.59 437.30,52.84 438.30,53.09 439.30,53.34 440.30,53.60 441.30,53.86 442.30,54.12 443.30,54.40 444.30,54.67 445.30,54.96 446.30,55.25 447.30,55.55 448.30,55.86 449.30,56.18 450.30,56.51 451.30,56.84 452.30,57.20 453.30,57.56 454.30,57.95 455.30,58.34 456.30,58.74 457.30,59.15 458.30,59.57 459.30,59.99 460.30,60.42 461.30,60.85 462.30,61.29 463.30,61.75 464.30,62.23 465.30,62.71 466.30,63.20 467.30,63.69 468.30,64.18 469.30,64.65 470.30,65.12 471.30,65.56 472.30,65.99 473.30,66.41 474.30,66.82 475.30,67.23 476.30,67.64 477.30,68.07 478.30,68.52 479.30,69.00 480.30,69.50 481.30,70.04 482.30,70.59 483.30,71.16 484.30,71.75 485.30,72.36 486.30,73.00 487.30,73.66 488.30,74.35 489.30,75.06 490.30,75.81 491.30,76.58 492.30,77.38 493.30,78.22 494.30,79.10 495.30,80.01 496.30,80.96 497.30,81.95 498.30,82.99 499.30,84.07 500.30,85.21 501.30,86.39 502.30,87.64 503.30,88.94 504.30,90.30 505.30,91.74 506.30,93.25 507.30,94.83 508.30,96.50 509.30,98.27 510.30,100.13 511.30,102.10 512.30,104.19 513.30,106.41 514.30,108.78 515.30,111.31 516.30,114.01 517.30,116.92 518.30,120.05 519.30,123.44 520.30,127.12 521.30,131.14 522.30,135.57 523.30,140.47 524.30,145.94 525.30,152.11 526.30,159.15 527.30,167.26 528.30,176.76 529.30,187.93 530.30,200.82 531.30,213.75 532.30,219.78 533.30,216.53 534.30,207.73 535.30,197.47 536.30,187.63 537.30,178.73 538.30,170.80 539.30,163.74 540.30,157.40 541.30,151.67 542.30,146.47 543.30,141.70 544.30,137.31 545.30,133.25 546.30,129.47 547.30,125.95 548.30,122.65 549.30,119.54 550.30,116.62 551.30,113.86 552.30,111.24 553.30,108.76 554.30,106.41 555.30,104.16 556.30,102.03 557.30,99.99 558.30,98.04 559.30,96.18 560.30,94.40 561.30,92.69 562.30,91.06 563.30,89.49 564.30,87.98 565.30,86.53 566.30,85.14 567.30,83.81 568.30,82.52 569.30,81.28 570.30,80.09 571.30,78.94 572.30,77.83 573.30,76.77 574.30,75.74 575.30,74.75 576.30,73.79 577.30,72.87 578.30,71.98 579.30,71.12 580.30,70.29 581.30,69.49 582.30,68.71 583.30,67.97 584.30,67.25 585.30,66.56 586.30,65.89 587.30,65.25 588.30,64.63 589.30,64.04 590.30,63.47 591.30,62.92 592.30,62.40 593.30,61.94 594.30,61.55 595.30,61.21 596.30,60.93 597.30,60.70 598.30,60.49 599.30,60.31 600.30,60.14 601.30,59.97 602.30,59.78 603.30,59.58 604.30,59.34 605.30,59.05 606.30,58.73 607.30,58.40 608.30,58.06 609.30,57.72 610.30,57.37 611.30,57.02 612.30,56.69 613.30,56.37 614.30,56.07 615.30,55.79 616.30,55.53 617.30,55.27 618.30,55.02 619.30,54.79 620.30,54.55 621.30,54.33 622.30,54.12 623.30,53.91 624.30,53.70 625.30,53.51 626.30,53.31 627.30,53.12 628.30,52.93 629.30,52.75 630.30,52.58 631.30,52.42 632.30,52.27 633.30,52.13 634.30,52.01 635.30,51.91 636.30,51.84 637.30,51.78 638.30,51.74 639.30,51.71 640.30,51.69 641.30,51.67 642.30,51.65 643.30,51.64 644.30,51.62 645.30,51.59 646.30,51.58 647.30,51.57 648.30,51.57 649.30,51.58 650.30,51.58 651.30,51.57 652.30,51.55 653.30,51.51 654.30,51.45 655.30,51.36 656.30,51.24 657.30,51.11 658.30,50.96 659.30,50.81 660.30,50.64 661.30,50.47 662.30,50.30 663.30,50.14 664.30,49.98 665.30,49.82 666.30,49.67 667.30,49.51 668.30,49.35 669.30,49.19 670.30,49.03 671.30,48.87 672.30,48.72 673.30,48.58 674.30,48.45 675.30,48.33 676.30,48.21 677.30,48.09 678.30,47.96 679.30,47.85 680.30,47.73 681.30,47.61 682.30,47.49 683.30,47.38 684.30,47.27 685.30,47.16" stroke="#e8263a"/>
<polyline points="401.70,42.85 402.70,42.89 403.70,42.87 404.70,42.83 405.70,42.79 406.70,42.76 407.70,42.74 408.70,42.72 409.70,42.72 410.70,42.72 411.70,42.74 412.70,42.77 413.70,42.82 414.70,42.88 415.70,42.95 416.70,43.03 417.70,43.11 418.70,43.19 419.70,43.28 420.70,43.37 421.70,43.46 422.70,43.56 423.70,43.66 424.70,43.77 425.70,43.88 426.70,43.99 427.70,44.12 428.70,44.24 429.70,44.37 430.70,44.51 431.70,44.65 432.70,44.80 433.70,44.95 434.70,45.11 435.70,45.27 436.70,45.43 437.70,45.60 438.70,45.77 439.70,45.95 440.70,46.13 441.70,46.31 442.70,46.50 443.70,46.70 444.70,46.90 445.70,47.10 446.70,47.31 447.70,47.53 448.70,47.76 449.70,47.99 450.70,48.22 451.70,48.48 452.70,48.74 453.70,49.02 454.70,49.31 455.70,49.60 456.70,49.91 457.70,50.21 458.70,50.52 459.70,50.82 460.70,51.12 461.70,51.42 462.70,51.73 463.70,52.03 464.70,52.35 465.70,52.67 466.70,53.00 467.70,53.34 468.70,53.69 469.70,54.05 470.70,54.41 471.70,54.79 472.70,55.19 473.70,55.59 474.70,56.01 475.70,56.44 476.70,56.89 477.70,57.34 478.70,57.80 479.70,58.28 480.70,58.76 481.70,59.26 482.70,59.76 483.70,60.28 484.70,60.81 485.70,61.36 486.70,61.93 487.70,62.51 488.70,63.11 489.70,63.73 490.70,64.38 491.70,65.04 492.70,65.73 493.70,66.44 494.70,67.18 495.70,67.95 496.70,68.75 497.70,69.57 498.70,70.43 499.70,71.32 500.70,72.25 501.70,73.21 502.70,74.22 503.70,75.27 504.70,76.37 505.70,77.51 506.70,78.71 507.70,79.96 508.70,81.26 509.70,82.64 510.70,84.07 511.70,85.59 512.70,87.17 513.70,88.85 514.70,90.61 515.70,92.47 516.70,94.45 517.70,96.53 518.70,98.75 519.70,101.12 520.70,103.64 521.70,106.34 522.70,109.23 523.70,112.36 524.70,115.74 525.70,119.41 526.70,123.43 527.70,127.85 528.70,132.75 529.70,138.23 530.70,144.42 531.70,151.49 532.70,159.68 533.70,169.32 534.70,180.79 535.70,194.27 536.70,208.27 537.70,215.51 538.70,210.18 539.70,198.70 540.70,186.61 541.70,175.78 542.70,166.40 543.70,158.27 544.70,151.16 545.70,144.88 546.70,139.27 547.70,134.21 548.70,129.62 549.70,125.42 550.70,121.56 551.70,118.00 552.70,114.68 553.70,111.60 554.70,108.71 555.70,106.00 556.70,103.46 557.70,101.06 558.70,98.79 559.70,96.64 560.70,94.60 561.70,92.67 562.70,90.83 563.70,89.08 564.70,87.40 565.70,85.81 566.70,84.28 567.70,82.82 568.70,81.42 569.70,80.07 570.70,78.79 571.70,77.55 572.70,76.36 573.70,75.22 574.70,74.12 575.70,73.06 576.70,72.04 577.70,71.05 578.70,70.11 579.70,69.19 580.70,68.31 581.70,67.46 582.70,66.64 583.70,65.84 584.70,65.08 585.70,64.33 586.70,63.62 587.70,62.93 588.70,62.26 589.70,61.61 590.70,60.99 591.70,60.39 592.70,59.81 593.70,59.28 594.70,58.78 595.70,58.32 596.70,57.88 597.70,57.48 598.70,57.09 599.70,56.72 600.70,56.37 601.70,56.02 602.70,55.68 603.70,55.33 604.70,54.96 605.70,54.59 606.70,54.22 607.70,53.86 608.70,53.49 609.70,53.13 610.70,52.78 611.70,52.44 612.70,52.10 613.70,51.77 614.70,51.46 615.70,51.15 616.70,50.86 617.70,50.57 618.70,50.29 619.70,50.02 620.70,49.75 621.70,49.49 622.70,49.23 623.70,48.98 624.70,48.73 625.70,48.48 626.70,48.23 627.70,47.98 628.70,47.73 629.70,47.48 630.70,47.23 631.70,47.00 632.70,46.77 633.70,46.55 634.70,46.35 635.70,46.16 636.70,45.99 637.70,45.84 638.70,45.74 639.70,45.68 640.70,45.65 641.70,45.64 642.70,45.64 643.70,45.63 644.70,45.61 645.70,45.58 646.70,45.55 647.70,45.53 648.70,45.52 649.70,45.51 650.70,45.49 651.70,45.48 652.70,45.46 653.70,45.43 654.70,45.39 655.70,45.33 656.70,45.26 657.70,45.17 658.70,45.07 659.70,44.96 660.70,44.85 661.70,44.73 662.70,44.61 663.70,44.48 664.70,44.35 665.70,44.22 666.70,44.09 667.70,43.96 668.70,43.84 669.70,43.71 670.70,43.59 671.70,43.46 672.70,43.34 673.70,43.21 674.70,43.08 675.70,42.95 676.70,42.81 677.70,42.68 678.70,42.54 679.70,42.41 680.70,42.27 681.70,42.13 682.70,41.99 683.70,41.84 684.70,41.76" stroke="#4466ae"/>
<polyline points="401.20,30.00 402.20,30.05 403.20,30.10 404.20,30.08 405.20,30.06 406.20,30.06 407.20,30.05 408.20,30.06 409.20,30.07 410.20,30.09 411.20,30.12 412.20,30.15 413.20,30.20 414.20,30.25 415.20,30.31 416.20,30.38 417.20,30.46 418.20,30.54 419.20,30.62 420.20,30.71 421.20,30.81 422.20,30.91 423.20,31.01 424.20,31.11 425.20,31.22 426.20,31.34 427.20,31.45 428.20,31.57 429.20,31.69 430.20,31.82 431.20,31.95 432.20,32.09 433.20,32.23 434.20,32.37 435.20,32.52 436.20,32.67 437.20,32.83 438.20,33.00 439.20,33.17 440.20,33.34 441.20,33.54 442.20,33.76 443.20,34.00 444.20,34.25 445.20,34.52 446.20,34.78 447.20,35.05 448.20,35.31 449.20,35.57 450.20,35.81 451.20,36.04 452.20,36.27 453.20,36.51 454.20,36.75 455.20,37.00 456.20,37.25 457.20,37.50 458.20,37.77 459.20,38.04 460.20,38.32 461.20,38.61 462.20,38.91 463.20,39.25 464.20,39.61 465.20,40.00 466.20,40.40 467.20,40.82 468.20,41.24 469.20,41.68 470.20,42.11 471.20,42.55 472.20,42.98 473.20,43.43 474.20,43.89 475.20,44.36 476.20,44.84 477.20,45.32 478.20,45.81 479.20,46.29 480.20,46.78 481.20,47.26 482.20,47.73 483.20,48.20 484.20,48.65 485.20,49.10 486.20,49.55 487.20,50.01 488.20,50.49 489.20,50.99 490.20,51.53 491.20,52.09 492.20,52.69 493.20,53.34 494.20,54.01 495.20,54.70 496.20,55.42 497.20,56.16 498.20,56.93 499.20,57.73 500.20,58.56 501.20,59.42 502.20,60.31 503.20,61.23 504.20,62.19 505.20,63.20 506.20,64.24 507.20,65.33 508.20,66.46 509.20,67.64 510.20,68.88 511.20,70.18 512.20,71.53 513.20,72.95 514.20,74.45 515.20,76.01 516.20,77.66 517.20,79.40 518.20,81.24 519.20,83.19 520.20,85.25 521.20,87.44 522.20,89.77 523.20,92.26 524.20,94.93 525.20,97.80 526.20,100.89 527.20,104.24 528.20,107.89 529.20,111.89 530.20,116.30 531.20,121.21 532.20,126.71 533.20,132.95 534.20,140.13 535.20,148.54 536.20,158.60 537.20,170.89 538.20,186.09 539.20,203.57 540.20,214.33 541.20,206.32 542.20,191.63 543.20,177.58 544.20,165.68 545.20,155.67 546.20,147.15 547.20,139.78 548.20,133.30 549.20,127.55 550.20,122.38 551.20,117.69 552.20,113.42 553.20,109.49 554.20,105.86 555.20,102.49 556.20,99.36 557.20,96.43 558.20,93.67 559.20,91.09 560.20,88.65 561.20,86.35 562.20,84.17 563.20,82.10 564.20,80.13 565.20,78.27 566.20,76.49 567.20,74.79 568.20,73.17 569.20,71.63 570.20,70.15 571.20,68.73 572.20,67.38 573.20,66.08 574.20,64.83 575.20,63.64 576.20,62.49 577.20,61.39 578.20,60.33 579.20,59.32 580.20,58.34 581.20,57.40 582.20,56.49 583.20,55.62 584.20,54.78 585.20,53.98 586.20,53.20 587.20,52.45 588.20,51.72 589.20,51.02 590.20,50.35 591.20,49.70 592.20,49.07 593.20,48.47 594.20,47.90 595.20,47.36 596.20,46.83 597.20,46.33 598.20,45.85 599.20,45.39 600.20,44.95 601.20,44.52 602.20,44.10 603.20,43.69 604.20,43.29 605.20,42.89 606.20,42.49 607.20,42.08 608.20,41.66 609.20,41.24 610.20,40.83 611.20,40.43 612.20,40.04 613.20,39.67 614.20,39.31 615.20,38.96 616.20,38.61 617.20,38.27 618.20,37.94 619.20,37.63 620.20,37.32 621.20,37.02 622.20,36.73 623.20,36.45 624.20,36.18 625.20,35.92 626.20,35.66 627.20,35.41 628.20,35.17 629.20,34.93 630.20,34.70 631.20,34.48 632.20,34.25 633.20,34.03 634.20,33.81 635.20,33.59 636.20,33.38 637.20,33.17 638.20,32.98 639.20,32.80 640.20,32.64 641.20,32.49 642.20,32.44 643.20,32.49 644.20,32.57 645.20,32.61 646.20,32.64 647.20,32.68 648.20,32.74 649.20,32.79 650.20,32.84 651.20,32.88 652.20,32.91 653.20,32.91 654.20,32.89 655.20,32.83 656.20,32.74 657.20,32.65 658.20,32.55 659.20,32.46 660.20,32.36 661.20,32.27 662.20,32.15 663.20,32.02 664.20,31.86 665.20,31.70 666.20,31.53 667.20,31.35 668.20,31.18 669.20,31.02 670.20,30.87 671.20,30.74 672.20,30.62 673.20,30.51 674.20,30.40 675.20,30.29 676.20,30.19 677.20,30.08 678.20,29.99 679.20,29.89 680.20,29.80 681.20,29.71 682.20,29.63 683.20,29.56 684.20,29.49 685.20,29.43" stroke="#64b562"/>
<polyline points="401.90,15.28 402.90,15.30 403.90,15.29 404.90,15.28 405.90,15.28 406.90,15.27 407.90,15.28 408.90,15.28 409.90,15.29 410.90,15.30 411.90,15.32 412.90,15.34 413.90,15.37 414.90,15.40 415.90,15.43 416.90,15.47 417.90,15.51 418.90,15.56 419.90,15.61 420.90,15.66 421.90,15.72 422.90,15.78 423.90,15.83 424.90,15.89 425.90,15.95 426.90,16.01 427.90,16.06 428.90,16.11 429.90,16.16 430.90,16.22 431.90,16.27 432.90,16.34 433.90,16.40 434.90,16.48 435.90,16.56 436.90,16.65 437.90,16.75 438.90,16.86 439.90,16.99 440.90,17.13 441.90,17.28 442.90,17.44 443.90,17.61 444.90,17.78 445.90,17.97 446.90,18.16 447.90,18.35 448.90,18.55 449.90,18.76 450.90,18.97 451.90,19.20 452.90,19.44 453.90,19.69 454.90,19.96 455.90,20.23 456.90,20.50 457.90,20.78 458.90,21.06 459.90,21.34 460.90,21.61 461.90,21.88 462.90,22.15 463.90,22.42 464.90,22.70 465.90,22.97 466.90,23.26 467.90,23.55 468.90,23.85 469.90,24.15 470.90,24.47 471.90,24.80 472.90,25.15 473.90,25.52 474.90,25.90 475.90,26.30 476.90,26.71 477.90,27.12 478.90,27.53 479.90,27.94 480.90,28.35 481.90,28.74 482.90,29.13 483.90,29.49 484.90,29.85 485.90,30.21 486.90,30.56 487.90,30.93 488.90,31.32 489.90,31.72 490.90,32.16 491.90,32.62 492.90,33.12 493.90,33.66 494.90,34.22 495.90,34.80 496.90,35.39 497.90,36.01 498.90,36.64 499.90,37.29 500.90,37.95 501.90,38.64 502.90,39.35 503.90,40.09 504.90,40.85 505.90,41.64 506.90,42.46 507.90,43.31 508.90,44.19 509.90,45.11 510.90,46.06 511.90,47.06 512.90,48.10 513.90,49.18 514.90,50.31 515.90,51.50 516.90,52.74 517.90,54.04 518.90,55.41 519.90,56.84 520.90,58.35 521.90,59.95 522.90,61.63 523.90,63.41 524.90,65.29 525.90,67.29 526.90,69.42 527.90,71.70 528.90,74.13 529.90,76.74 530.90,79.55 531.90,82.59 532.90,85.89 533.90,89.50 534.90,93.45 535.90,97.83 536.90,102.71 537.90,108.21 538.90,114.48 539.90,121.75 540.90,130.33 541.90,140.74 542.90,153.78 543.90,170.75 544.90,192.66 545.90,208.96 546.90,198.64 547.90,181.42 548.90,166.07 549.90,153.50 550.90,143.12 551.90,134.36 552.90,126.83 553.90,120.24 554.90,114.39 555.90,109.14 556.90,104.39 557.90,100.06 558.90,96.07 559.90,92.39 560.90,88.98 561.90,85.80 562.90,82.82 563.90,80.03 564.90,77.41 565.90,74.93 566.90,72.59 567.90,70.37 568.90,68.27 569.90,66.27 570.90,64.37 571.90,62.56 572.90,60.84 573.90,59.19 574.90,57.61 575.90,56.11 576.90,54.67 577.90,53.29 578.90,51.97 579.90,50.70 580.90,49.49 581.90,48.32 582.90,47.20 583.90,46.13 584.90,45.10 585.90,44.11 586.90,43.16 587.90,42.24 588.90,41.36 589.90,40.52 590.90,39.70 591.90,38.92 592.90,38.17 593.90,37.44 594.90,36.74 595.90,36.06 596.90,35.41 597.90,34.79 598.90,34.18 599.90,33.60 600.90,33.03 601.90,32.49 602.90,31.96 603.90,31.46 604.90,30.96 605.90,30.46 606.90,29.90 607.90,29.31 608.90,28.72 609.90,28.16 610.90,27.64 611.90,27.12 612.90,26.61 613.90,26.13 614.90,25.70 615.90,25.32 616.90,24.99 617.90,24.67 618.90,24.37 619.90,24.08 620.90,23.81 621.90,23.57 622.90,23.36 623.90,23.17 624.90,22.98 625.90,22.76 626.90,22.51 627.90,22.21 628.90,21.90 629.90,21.58 630.90,21.27 631.90,21.00 632.90,20.73 633.90,20.46 634.90,20.21 635.90,19.99 636.90,19.79 637.90,19.61 638.90,19.44 639.90,19.27 640.90,19.11 641.90,18.95 642.90,18.80 643.90,18.66 644.90,18.52 645.90,18.40 646.90,18.34 647.90,18.31 648.90,18.32 649.90,18.34 650.90,18.37 651.90,18.40 652.90,18.41 653.90,18.40 654.90,18.36 655.90,18.27 656.90,18.15 657.90,18.01 658.90,17.86 659.90,17.72 660.90,17.60 661.90,17.49 662.90,17.38 663.90,17.28 664.90,17.18 665.90,17.09 666.90,16.99 667.90,16.91 668.90,16.82 669.90,16.73 670.90,16.65 671.90,16.57 672.90,16.49 673.90,16.41 674.90,16.33 675.90,16.26 676.90,16.18 677.90,16.11 678.90,16.04 679.90,15.97 680.90,15.90 681.90,15.84 682.90,15.77 683.90,15.71 684.90,15.65" stroke="#834c93"/>
</g>
<line x1="149.2" y1="165.0" x2="272" y2="165.0" stroke="url(#ga)" stroke-width="2.1"/>
<path d="M268.2,158.8 L287.8,165.0 L268.2,171.3 L270.8,165.0 Z" fill="#e8673c"/>
<line x1="499" y1="226" x2="570" y2="226" stroke="url(#gb)" stroke-width="2"/>
<path d="M566.5,219.9 L587,226 L566.5,232.3 L569.6,226 Z" fill="#e8673c"/>
<rect x="54.4" y="11.8" width="278.80" height="225.30" fill="none" stroke="#231f20" stroke-width="1.6" stroke-linejoin="round"/>
<rect x="403.2" y="11.9" width="280.50" height="226.80" fill="none" stroke="#231f20" stroke-width="1.6" stroke-linejoin="round"/>
<line x1="50.20" y1="26.50" x2="54.40" y2="26.50" stroke="#231f20" stroke-width="1.35"/>
<text x="45.90" y="32.20" text-anchor="end" class="t">-16</text>
<line x1="50.20" y1="77.30" x2="54.40" y2="77.30" stroke="#231f20" stroke-width="1.35"/>
<text x="45.90" y="83.00" text-anchor="end" class="t">-24</text>
<line x1="50.20" y1="128.10" x2="54.40" y2="128.10" stroke="#231f20" stroke-width="1.35"/>
<text x="45.90" y="133.80" text-anchor="end" class="t">-32</text>
<line x1="50.20" y1="178.90" x2="54.40" y2="178.90" stroke="#231f20" stroke-width="1.35"/>
<text x="45.90" y="184.60" text-anchor="end" class="t">-40</text>
<line x1="50.20" y1="229.70" x2="54.40" y2="229.70" stroke="#231f20" stroke-width="1.35"/>
<text x="45.90" y="235.40" text-anchor="end" class="t">-48</text>
<line x1="52.20" y1="51.90" x2="54.40" y2="51.90" stroke="#231f20" stroke-width="1.35"/>
<line x1="52.20" y1="102.70" x2="54.40" y2="102.70" stroke="#231f20" stroke-width="1.35"/>
<line x1="52.20" y1="153.50" x2="54.40" y2="153.50" stroke="#231f20" stroke-width="1.35"/>
<line x1="52.20" y1="204.30" x2="54.40" y2="204.30" stroke="#231f20" stroke-width="1.35"/>
<line x1="88.00" y1="237.10" x2="88.00" y2="241.30" stroke="#231f20" stroke-width="1.35"/>
<text x="88.00" y="257.00" text-anchor="middle" class="t">1.5474</text>
<line x1="156.80" y1="237.10" x2="156.80" y2="241.30" stroke="#231f20" stroke-width="1.35"/>
<text x="156.80" y="257.00" text-anchor="middle" class="t">1.5477</text>
<line x1="225.60" y1="237.10" x2="225.60" y2="241.30" stroke="#231f20" stroke-width="1.35"/>
<text x="225.60" y="257.00" text-anchor="middle" class="t">1.5480</text>
<line x1="294.40" y1="237.10" x2="294.40" y2="241.30" stroke="#231f20" stroke-width="1.35"/>
<text x="294.40" y="257.00" text-anchor="middle" class="t">1.5483</text>
<line x1="122.40" y1="237.10" x2="122.40" y2="239.30" stroke="#231f20" stroke-width="1.35"/>
<line x1="191.20" y1="237.10" x2="191.20" y2="239.30" stroke="#231f20" stroke-width="1.35"/>
<line x1="260.00" y1="237.10" x2="260.00" y2="239.30" stroke="#231f20" stroke-width="1.35"/>
<line x1="328.80" y1="237.10" x2="328.80" y2="239.30" stroke="#231f20" stroke-width="1.35"/>
<line x1="399.00" y1="36.40" x2="403.20" y2="36.40" stroke="#231f20" stroke-width="1.35"/>
<text x="395.40" y="40.70" text-anchor="end" class="t">-21</text>
<line x1="399.00" y1="78.09" x2="403.20" y2="78.09" stroke="#231f20" stroke-width="1.35"/>
<text x="395.40" y="82.39" text-anchor="end" class="t">-28</text>
<line x1="399.00" y1="119.77" x2="403.20" y2="119.77" stroke="#231f20" stroke-width="1.35"/>
<text x="395.40" y="124.07" text-anchor="end" class="t">-35</text>
<line x1="399.00" y1="161.46" x2="403.20" y2="161.46" stroke="#231f20" stroke-width="1.35"/>
<text x="395.40" y="165.75" text-anchor="end" class="t">-42</text>
<line x1="399.00" y1="203.14" x2="403.20" y2="203.14" stroke="#231f20" stroke-width="1.35"/>
<text x="395.40" y="207.44" text-anchor="end" class="t">-49</text>
<line x1="401.00" y1="15.56" x2="403.20" y2="15.56" stroke="#231f20" stroke-width="1.35"/>
<line x1="401.00" y1="57.24" x2="403.20" y2="57.24" stroke="#231f20" stroke-width="1.35"/>
<line x1="401.00" y1="98.93" x2="403.20" y2="98.93" stroke="#231f20" stroke-width="1.35"/>
<line x1="401.00" y1="140.61" x2="403.20" y2="140.61" stroke="#231f20" stroke-width="1.35"/>
<line x1="401.00" y1="182.30" x2="403.20" y2="182.30" stroke="#231f20" stroke-width="1.35"/>
<line x1="401.00" y1="223.98" x2="403.20" y2="223.98" stroke="#231f20" stroke-width="1.35"/>
<line x1="425.40" y1="238.70" x2="425.40" y2="242.90" stroke="#231f20" stroke-width="1.35"/>
<text x="425.40" y="258.50" text-anchor="middle" class="t">1.5494</text>
<line x1="484.30" y1="238.70" x2="484.30" y2="242.90" stroke="#231f20" stroke-width="1.35"/>
<text x="484.30" y="258.50" text-anchor="middle" class="t">1.5496</text>
<line x1="543.20" y1="238.70" x2="543.20" y2="242.90" stroke="#231f20" stroke-width="1.35"/>
<text x="543.20" y="258.50" text-anchor="middle" class="t">1.5498</text>
<line x1="602.10" y1="238.70" x2="602.10" y2="242.90" stroke="#231f20" stroke-width="1.35"/>
<text x="602.10" y="258.50" text-anchor="middle" class="t">1.5500</text>
<line x1="661.00" y1="238.70" x2="661.00" y2="242.90" stroke="#231f20" stroke-width="1.35"/>
<text x="661.00" y="258.50" text-anchor="middle" class="t">1.5502</text>
<line x1="454.85" y1="238.70" x2="454.85" y2="240.90" stroke="#231f20" stroke-width="1.35"/>
<line x1="513.75" y1="238.70" x2="513.75" y2="240.90" stroke="#231f20" stroke-width="1.35"/>
<line x1="572.65" y1="238.70" x2="572.65" y2="240.90" stroke="#231f20" stroke-width="1.35"/>
<line x1="631.55" y1="238.70" x2="631.55" y2="240.90" stroke="#231f20" stroke-width="1.35"/>
<line x1="690.45" y1="238.70" x2="690.45" y2="240.90" stroke="#231f20" stroke-width="1.35"/>
<text x="194.20" y="279.60" text-anchor="middle" class="t">Wavelength (µm)</text>
<text x="544.00" y="279.40" text-anchor="middle" class="t">Wavelength (µm)</text>
<text transform="translate(11.90,124.30) rotate(-90)" text-anchor="middle" class="t">Transmission (dB)</text>
<text transform="translate(362.30,125.20) rotate(-90)" text-anchor="middle" class="t">Transmission (dB)</text>
<line x1="59.1" y1="122.50" x2="90.6" y2="122.50" stroke="#0c0c0c" stroke-width="1.5"/>
<text x="94.30" y="127.60" text-anchor="start" class="t">0 mT</text>
<line x1="59.1" y1="139.36" x2="90.6" y2="139.36" stroke="#e8263a" stroke-width="1.5"/>
<text x="94.30" y="144.46" text-anchor="start" class="t">11.2 mT</text>
<line x1="59.1" y1="156.22" x2="90.6" y2="156.22" stroke="#4466ae" stroke-width="1.5"/>
<text x="94.30" y="161.32" text-anchor="start" class="t">20.8 mT</text>
<line x1="59.1" y1="173.08" x2="90.6" y2="173.08" stroke="#64b562" stroke-width="1.5"/>
<text x="94.30" y="178.18" text-anchor="start" class="t">31.5 mT</text>
<line x1="59.1" y1="189.94" x2="90.6" y2="189.94" stroke="#834c93" stroke-width="1.5"/>
<text x="94.30" y="195.04" text-anchor="start" class="t">40.8 mT</text>
<line x1="59.1" y1="206.80" x2="90.6" y2="206.80" stroke="#b4633a" stroke-width="1.5"/>
<text x="94.30" y="211.90" text-anchor="start" class="t">49.5 mT</text>
<line x1="59.1" y1="223.66" x2="90.6" y2="223.66" stroke="#5bbdd3" stroke-width="1.5"/>
<text x="94.30" y="228.76" text-anchor="start" class="t">55 mT</text>
<line x1="409.5" y1="157.20" x2="441.1" y2="157.20" stroke="#0c0c0c" stroke-width="1.5"/>
<text x="446.80" y="162.00" text-anchor="start" class="t">0 dB</text>
<line x1="409.5" y1="174.10" x2="441.1" y2="174.10" stroke="#e8263a" stroke-width="1.5"/>
<text x="446.80" y="178.90" text-anchor="start" class="t">2 dB</text>
<line x1="409.5" y1="191.00" x2="441.1" y2="191.00" stroke="#4466ae" stroke-width="1.5"/>
<text x="446.80" y="195.80" text-anchor="start" class="t">4 dB</text>
<line x1="409.5" y1="207.90" x2="441.1" y2="207.90" stroke="#64b562" stroke-width="1.5"/>
<text x="446.80" y="212.70" text-anchor="start" class="t">6 dB</text>
<line x1="409.5" y1="224.80" x2="441.1" y2="224.80" stroke="#834c93" stroke-width="1.5"/>
<text x="446.80" y="229.60" text-anchor="start" class="t">8 dB</text>
</svg>
</body></html>
